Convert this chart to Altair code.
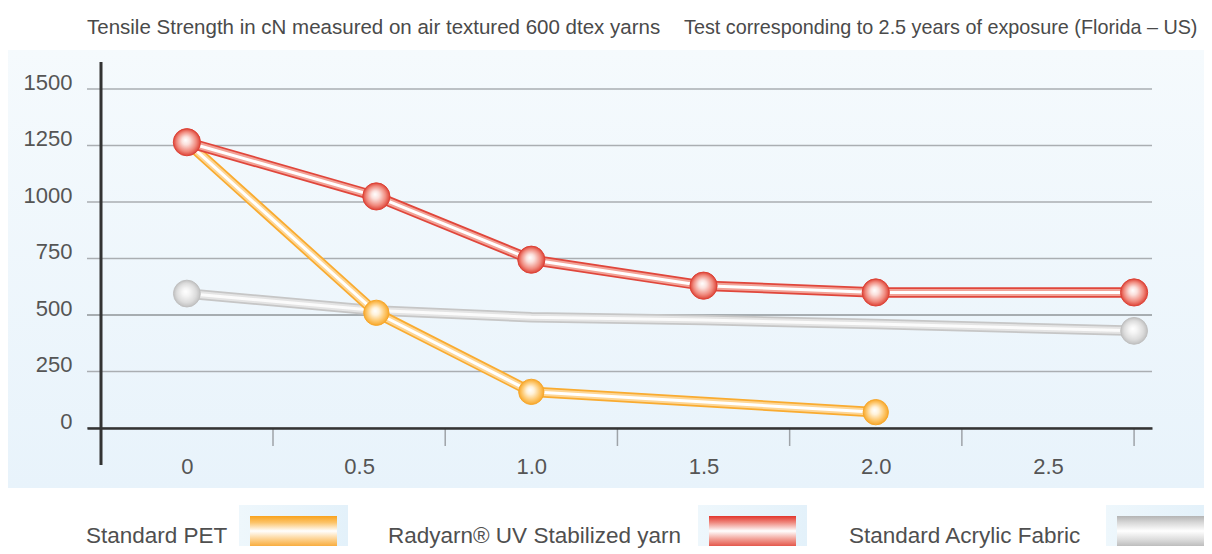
import altair as alt
import pandas as pd

# ---------------- data ----------------
title_left = "Tensile Strength in cN measured on air textured 600 dtex yarns"
title_right = "Test corresponding to 2.5 years of exposure (Florida – US)"

series_names = ["Standard PET", "Radyarn® UV Stabilized yarn", "Standard Acrylic Fabric"]

pet_x = [0, 0.55, 1.0, 2.0]
pet_y = [1265, 510, 160, 70]
pet_marker = [True, True, True, True]

rad_x = [0, 0.55, 1.0, 1.5, 2.0, 2.75]
rad_y = [1265, 1025, 745, 630, 600, 600]
rad_marker = [True, True, True, True, True, True]

acr_x = [0, 0.55, 1.0, 1.5, 2.0, 2.75]
acr_y = [595, 520, 490, 478, 460, 430]
acr_marker = [True, False, False, False, False, True]

x_label_values = [0, 0.5, 1.0, 1.5, 2.0, 2.5]
x_tick_values = [0.25, 0.75, 1.25, 1.75, 2.25, 2.75]
y_tick_values = [0, 250, 500, 750, 1000, 1250, 1500]

# ---------------- layout / style ----------------
W, H = 1065, 366
FONT = "Liberation Sans"
X_DOMAIN = [-0.29, 2.802]
Y_DOMAIN = [0, 1620]

FRAME = dict(x0=-79, x1=1117, y0=-54, y1=484)
PANEL = dict(x0=-79, x1=1117, y0=-12, y1=426)

legend_text_x = [-1, 301, 762]
legend_text_y = 474
legend_bg_x = [(152, 261), (611, 720), (1019, 1117)]
legend_bg_y = (443, 484)
legend_sw_x = [(163, 250), (622, 709), (1030, 1117)]
legend_sw_y = (454, 484)

styles = {
    "Standard PET": dict(
        edge="#f9ab30", mid="#fdd696", core="#ffffff", size=640,
        radial=["#ffffff", "#fff2da", "#fdc66a", "#f7a72b"],
        swatch=["#f9a21c", "#fcc46a", "#ffffff", "#fdd08c", "#f8ad3f"],
    ),
    "Radyarn® UV Stabilized yarn": dict(
        edge="#e0463b", mid="#f2a398", core="#ffffff", size=740,
        radial=["#ffffff", "#fbe0dc", "#f08a7e", "#dd4236"],
        swatch=["#e2352c", "#ef8a80", "#ffffff", "#f19c92", "#e4584c"],
    ),
    "Standard Acrylic Fabric": dict(
        edge="#c6c6c6", mid="#e4e4e4", core="#fbfbfb", size=720,
        radial=["#ffffff", "#f4f4f4", "#dcdcdc", "#c0c0c0"],
        swatch=["#b4b4b4", "#d8d8d8", "#ffffff", "#dddddd", "#bdbdbd"],
    ),
}

x_scale = alt.Scale(domain=X_DOMAIN, nice=False, zero=False)
y_scale = alt.Scale(domain=Y_DOMAIN, nice=False, zero=False)

x_axis = alt.Axis(
    values=x_label_values,
    labelExpr="datum.value == 0 ? '0' : format(datum.value, '.1f')",
    ticks=False, tickSize=0, grid=False,
    domainColor="#333333", domainWidth=2.5,
    labelFont=FONT, labelFontSize=22, labelColor="#555555",
    labelPadding=28, labelFlush=False, labelOverlap=False,
    title=None, zindex=1,
)
y_axis = alt.Axis(
    values=y_tick_values, format="d",
    ticks=False, tickSize=0, grid=False, domain=False,
    labelFont=FONT, labelFontSize=22, labelColor="#555555",
    labelPadding=15, labelBaseline="alphabetic",
    title=None, zindex=1,
)


def X(field="x"):
    return alt.X(f"{field}:Q", scale=x_scale, axis=x_axis)


def Y(field="y"):
    return alt.Y(f"{field}:Q", scale=y_scale, axis=y_axis)


one = pd.DataFrame({"k": [0]})


def lin(stops):
    offs = [0, 0.22, 0.5, 0.78, 1]
    return {"gradient": "linear", "x1": 0, "y1": 0, "x2": 0, "y2": 1,
            "stops": [{"offset": o, "color": c} for o, c in zip(offs, stops)]}


def rad(stops):
    offs = [0, 0.3, 0.72, 1]
    return {"gradient": "radial", "x1": 0.45, "y1": 0.42, "r1": 0,
            "x2": 0.5, "y2": 0.5, "r2": 0.5,
            "stops": [{"offset": o, "color": c} for o, c in zip(offs, stops)]}


layers = []

# frame (fixes overall size)
layers.append(alt.Chart(one).mark_rect(fill="white").encode(
    x=alt.value(FRAME["x0"]), x2=alt.value(FRAME["x1"]),
    y=alt.value(FRAME["y0"]), y2=alt.value(FRAME["y1"])))

# panel background
layers.append(alt.Chart(one).mark_rect(
    fill={"gradient": "linear", "x1": 0, "y1": 0, "x2": 0, "y2": 1,
          "stops": [{"offset": 0, "color": "#f5fafd"},
                    {"offset": 1, "color": "#e8f3fb"}]}).encode(
    x=alt.value(PANEL["x0"]), x2=alt.value(PANEL["x1"]),
    y=alt.value(PANEL["y0"]), y2=alt.value(PANEL["y1"])))

# gridlines
grid_df = pd.DataFrame({"y": y_tick_values})
layers.append(alt.Chart(grid_df).mark_rule(strokeWidth=1.5).encode(
    y=Y("y"), x=alt.value(0), x2=alt.value(W),
    color=alt.condition("datum.y == 500", alt.value("#8f9499"), alt.value("#aaaeb2"))))

# x tick marks (between labels)
tick_df = pd.DataFrame({"x": x_tick_values})
layers.append(alt.Chart(tick_df).mark_rule(color="#9ea3a8", strokeWidth=1.5).encode(
    x=X("x"), y=alt.value(H), y2=alt.value(H + 18)))

# y axis line
layers.append(alt.Chart(one).mark_rule(color="#333333", strokeWidth=3).encode(
    x=alt.value(14), y=alt.value(0), y2=alt.value(403)))

series_data = {
    "Standard PET": (pet_x, pet_y, pet_marker),
    "Radyarn® UV Stabilized yarn": (rad_x, rad_y, rad_marker),
    "Standard Acrylic Fabric": (acr_x, acr_y, acr_marker),
}

draw_order = ["Standard Acrylic Fabric", "Standard PET", "Radyarn® UV Stabilized yarn"]

frames = {}
for name in draw_order:
    xs, ys, ms = series_data[name]
    frames[name] = pd.DataFrame({"x": xs, "y": ys, "m": ms})

# tube-like lines
for name in draw_order:
    st = styles[name]
    df = frames[name]
    for col, w in ((st["edge"], 10.5), (st["mid"], 7), (st["core"], 3)):
        layers.append(alt.Chart(df).mark_line(
            color=col, strokeWidth=w, strokeJoin="round", strokeCap="round").encode(
            x=X(), y=Y()))

# glossy markers
for name in draw_order:
    st = styles[name]
    df = frames[name][frames[name]["m"]]
    layers.append(alt.Chart(df).mark_point(
        shape="circle", filled=True, size=st["size"], opacity=1,
        fill=rad(st["radial"]), stroke=st["radial"][-1], strokeWidth=1).encode(
        x=X(), y=Y()))

# title texts
layers.append(alt.Chart(one).mark_text(
    text=title_left, font=FONT, fontSize=20.5, color="#4a4a4a",
    align="left", baseline="middle").encode(x=alt.value(0), y=alt.value(-34)))
layers.append(alt.Chart(one).mark_text(
    text=title_right, font=FONT, fontSize=19.8, color="#4a4a4a",
    align="left", baseline="middle").encode(x=alt.value(597), y=alt.value(-34)))

# legend
for i, name in enumerate(series_names):
    st = styles[name]
    bx0, bx1 = legend_bg_x[i]
    sx0, sx1 = legend_sw_x[i]
    layers.append(alt.Chart(one).mark_rect(
        fill={"gradient": "linear", "x1": 0, "y1": 0, "x2": 1, "y2": 0,
              "stops": [{"offset": 0, "color": "#eef7fc"},
                        {"offset": 1, "color": "#e3f1fa"}]}).encode(
        x=alt.value(bx0), x2=alt.value(bx1),
        y=alt.value(legend_bg_y[0]), y2=alt.value(legend_bg_y[1])))
    layers.append(alt.Chart(one).mark_rect(fill=lin(st["swatch"])).encode(
        x=alt.value(sx0), x2=alt.value(sx1),
        y=alt.value(legend_sw_y[0]), y2=alt.value(legend_sw_y[1])))
    layers.append(alt.Chart(one).mark_text(
        text=name, font=FONT, fontSize=22.5, color="#4f4f4f",
        align="left", baseline="middle").encode(
        x=alt.value(legend_text_x[i]), y=alt.value(legend_text_y)))

chart = alt.layer(*layers).properties(
    width=W, height=H, padding=0
).configure_view(strokeWidth=0).configure(background="white")

chart.save("out.html", embed_options={"renderer": "svg", "actions": False})
